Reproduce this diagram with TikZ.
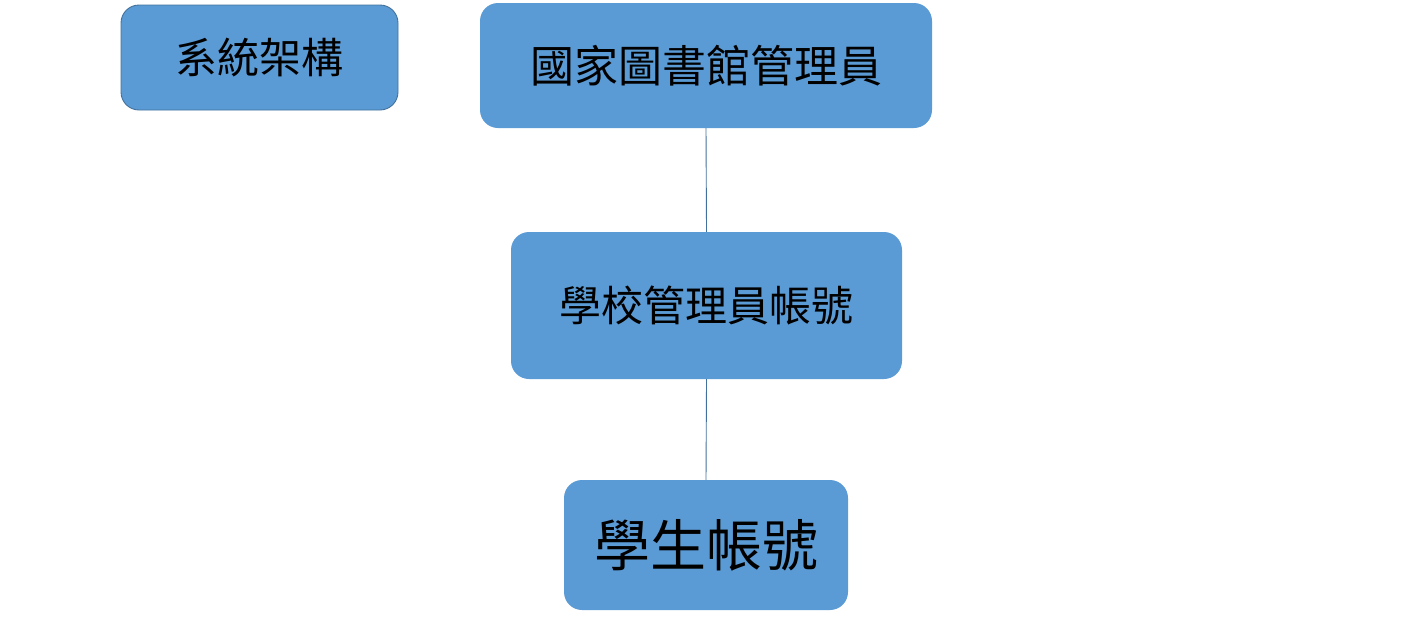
\documentclass[tikz,border=0pt]{standalone}
\usepackage{fontspec}
\newfontfamily\cjk{Noto Sans CJK TC}
\definecolor{boxblue}{HTML}{5B9BD5}
\definecolor{edgeblue}{HTML}{41719C}
\begin{document}
\begin{tikzpicture}[x=1pt,y=-1pt,
  box/.style={fill=boxblue,rounded corners=18pt,inner sep=0pt,font=\cjk},
  link/.style={draw=edgeblue,line width=0.9pt}]
\useasboundingbox (0,0) rectangle (1412,622);
\node[box,draw=edgeblue,line width=0.9pt,minimum width=277pt,minimum height=105pt,font=\cjk\fontsize{42}{48}\selectfont] (sys) at (259.5,57.5) {系統架構};
\node[box,minimum width=452pt,minimum height=125pt,font=\cjk\fontsize{44}{50}\selectfont] (nat) at (706,65.5) {國家圖書館管理員};
\node[box,minimum width=391pt,minimum height=147pt,font=\cjk\fontsize{42}{48}\selectfont] (sch) at (706.5,305.5) {學校管理員帳號};
\node[box,minimum width=284pt,minimum height=130pt,font=\cjk\fontsize{56}{62}\selectfont] (stu) at (706,545) {學生帳號};
\draw[link] (nat.south) ++(0,2) coordinate (a);
\draw[link] (nat.south) -- (sch.north);
\draw[link] (sch.south) -- (stu.north);
\end{tikzpicture}
\end{document}
